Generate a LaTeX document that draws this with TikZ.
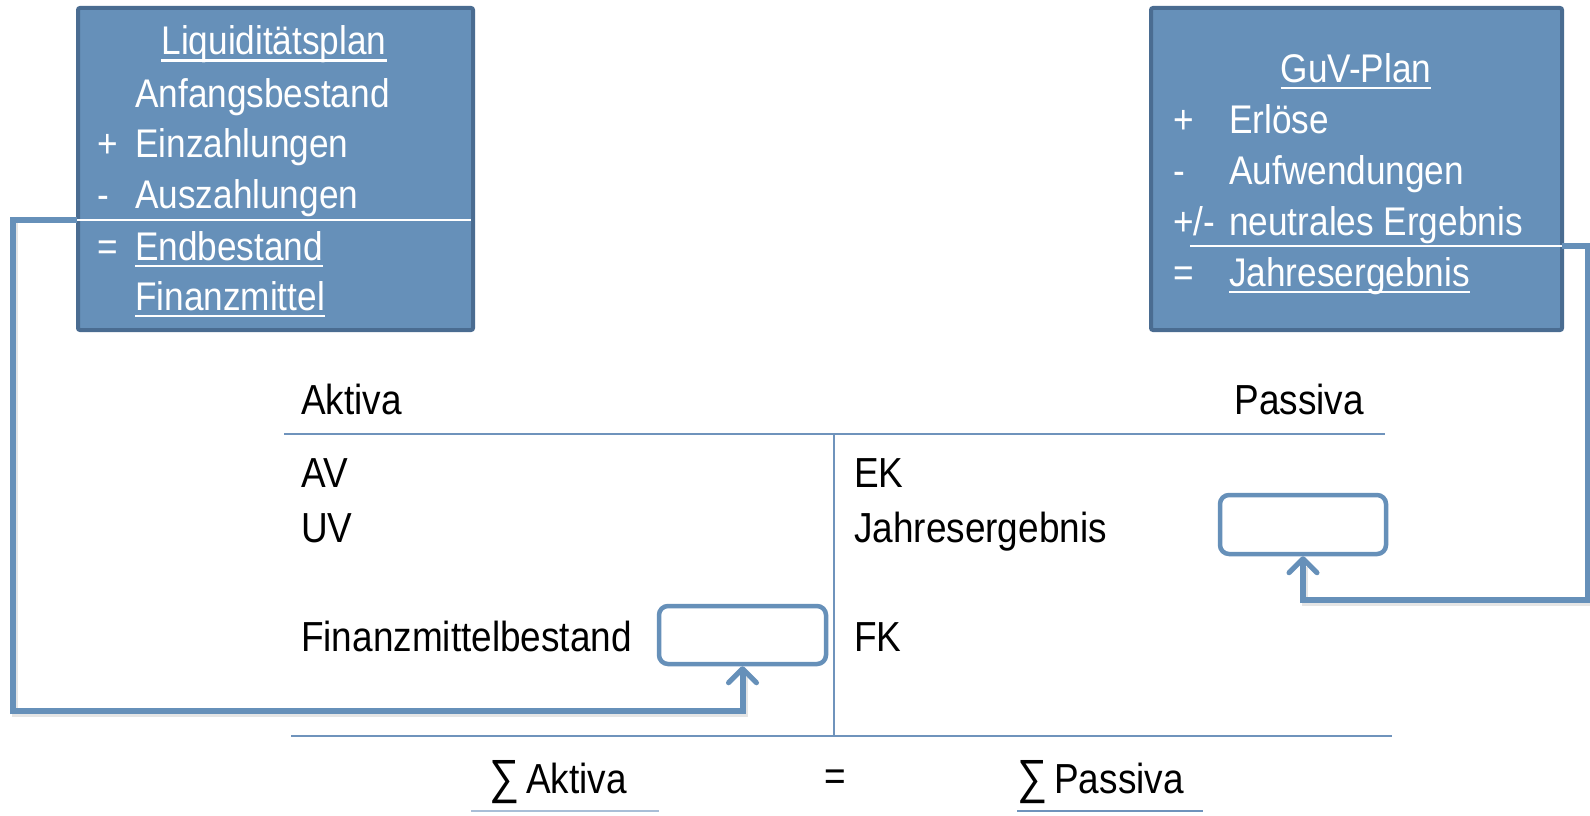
\documentclass[tikz,border=0pt]{standalone}
\usepackage{fontspec}
\setmainfont{Liberation Sans}[FakeStretch=0.88]
\usetikzlibrary{arrows.meta,calc}
\definecolor{boxfill}{HTML}{6690B9}
\definecolor{boxdraw}{HTML}{4A6C91}
\definecolor{connc}{HTML}{6690B9}
\definecolor{tline}{HTML}{6F93BC}
\newcommand\ulw[1]{\setbox0\hbox{#1}\rlap{\rule[-7pt]{\wd0}{2.5pt}}\box0}
\begin{document}
\begin{tikzpicture}[x=1pt,y=-1pt,
  bigbox/.style={draw=boxdraw, fill=boxfill, line width=4pt, rounded corners=2pt, inner sep=0pt},
  smallbox/.style={draw=connc, fill=white, line width=4.5pt, rounded corners=9pt, inner sep=0pt},
  btxt/.style={anchor=base west, inner sep=0pt, text=white, font=\fontsize{40}{46}\selectfont},
  ttxt/.style={anchor=base west, inner sep=0pt, text=black, font=\fontsize{42}{48}\selectfont},
  tl/.style={draw=tline, line width=2pt},
  wire/.style={draw=connc, line width=6pt},
  shad/.style={draw=black!25, opacity=0.4, line width=6pt},
  arr/.style={-{Straight Barb[length=14pt,width=28pt,line width=5pt,round]}}
]
\useasboundingbox (0,0) rectangle (1590,816);
\fill[white] (0,0) rectangle (1590,816);

% plan boxes
\node[bigbox, minimum width=395pt, minimum height=322pt] (liq) at (275.5,169) {};
\node[bigbox, minimum width=411pt, minimum height=322pt] (guv) at (1356.5,169) {};

\coordinate (sepL) at (77,220);
\coordinate (sepLe) at (471,220);
\coordinate (sepR) at (1562,246);
\coordinate (sepRs) at (1190,246);
\draw[white, line width=2.5pt] (sepL) -- (sepLe);
\draw[white, line width=2.5pt] (sepRs) -- (sepR);

% Liquiditaetsplan text
\node[btxt, anchor=base] (t0) at (274,55) {\ulw{Liquiditätsplan}};
\node[btxt] (t1) at (135,107) {Anfangsbestand};
\node[btxt] (s2) at (97,157) {+};
\node[btxt] (t2) at (135,157) {Einzahlungen};
\node[btxt] (s3) at (97,208) {-};
\node[btxt] (t3) at (135,208) {Auszahlungen};
\node[btxt] (s4) at (97,260) {=};
\node[btxt] (t4) at (135,260) {\ulw{Endbestand}};
\node[btxt] (t5) at (135,310) {\ulw{Finanzmittel}};

% GuV-Plan text
\node[btxt, anchor=base] (g0) at (1356,82) {\ulw{GuV-Plan}};
\node[btxt] (gs1) at (1173,133) {+};
\node[btxt] (g1) at (1229,133) {Erlöse};
\node[btxt] (gs2) at (1173,184) {-};
\node[btxt] (g2) at (1229,184) {Aufwendungen};
\node[btxt] (gs3) at (1173,235) {+/-};
\node[btxt] (g3) at (1229,235) {neutrales Ergebnis};
\node[btxt] (gs4) at (1173,286) {=};
\node[btxt] (g4) at (1229,286) {\ulw{Jahresergebnis}};

% T-account
\node[ttxt] (akt) at (301,414) {Aktiva};
\node[ttxt, anchor=base east] (pas) at (1364,414) {Passiva};
\draw[tl] (284,434) -- (1385,434);
\draw[tl] (834,434) -- (834,736);
\draw[tl] (291,736) -- (1392,736);

\node[ttxt] (av) at (301,487) {AV};
\node[ttxt] (uv) at (301,542) {UV};
\node[ttxt] (fm) at (301,651) {Finanzmittelbestand};
\node[ttxt] (ek) at (854,487) {EK};
\node[ttxt] (je) at (854,542) {Jahresergebnis};
\node[ttxt] (fk) at (854,651) {FK};

\node[smallbox, minimum width=167pt, minimum height=58pt] (fmb) at (742.5,635) {};
\node[smallbox, minimum width=166pt, minimum height=59pt] (jeb) at (1303,524.5) {};

% sums
\node[ttxt] (sa) at (489,793) {{\fontsize{48}{48}\selectfont ∑}\,Aktiva};
\node[ttxt, anchor=base] (eq) at (835,790) {=};
\node[ttxt] (sp) at (1017,793) {{\fontsize{48}{48}\selectfont ∑}\,Passiva};
\draw[draw=tline!60, line width=1.5pt] (471,811) -- (659,811);
\draw[tl] (1017,811) -- (1203,811);

% connectors
\coordinate (cL1) at (13,220);
\coordinate (cL2) at (13,711);
\coordinate (cR1) at (1588,246);
\coordinate (cR2) at (1588,600);
\begin{scope}[transform canvas={shift={(2pt,-3pt)}}]
\draw[shad] (cL1) -- (cL2) -| ($(fmb.south)+(0,8)$);
\draw[shad] (cR1) -- (cR2) -| ($(jeb.south)+(0,8)$);
\end{scope}
\draw[wire, arr] (sepL) -- (cL1) -- (cL2) -| (fmb.south);
\draw[wire, arr] (sepR) -- (cR1) -- (cR2) -| (jeb.south);
\end{tikzpicture}
\end{document}
